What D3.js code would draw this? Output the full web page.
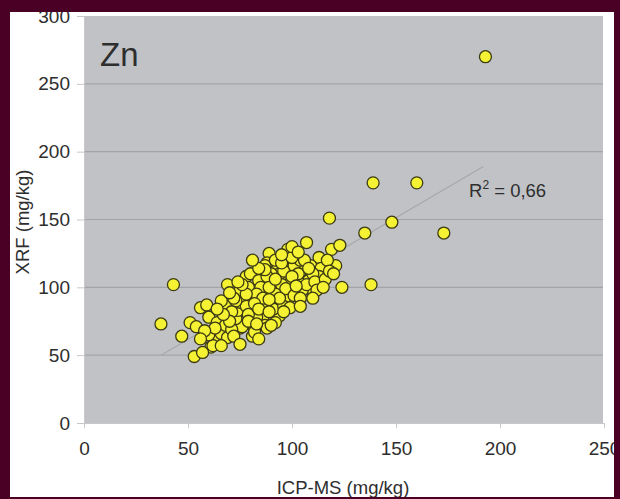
<!DOCTYPE html>
<html>
  <head>
    <title> Zn XRF vs ICP-MS </title>
    <script src="https://d3js.org/d3.v7.min.js"></script>
    <style>
      body { margin: 0; background: #4a0024; }
      text {
        font-family: "Liberation Sans", Arial, sans-serif;
        fill: #2e2e2e;
      }
    </style>
  </head>
  <body>
    <svg id="main" width="620" height="499"></svg>
    <script>
      // ICP-MS (mg/kg) values
      var icpms = [193,160,139,118,148,135,173,138,124,107,119,123,113,109,121,114,106,113,117,108,
                   109,105,105,101,102,98,98,100,98,98,94,95,93,94,89,88,91,84,86,88,
                   90,85,86,87,82,81,81,78,75,77,80,83,93,97,99,103,98,80,87,84,
                   91,101,103,94,82,76,69,73,78,86,65,61,43,37,47,53,57,62,51,54,
                   56,59,60,60,66,64,69,69,74,69,66,74,68,71,75,78,96,92,90,85,
                   79,83,88,95,100,104,97,92,89,86,82,79,84,91,96,101,107,110,111,104,
                   99,94,89,87,92,95,100,102,78,76,73,71,70,67,63,58,56,72,88,92,
                   96,84,75,106,112,116,118,115,120,110,104,108,100,95,103,84,81,74,79,89,
                   90,83,72,66,64,70];
      // XRF (mg/kg) values
      var xrf = [270,177,177,151,148,140,140,102,100,133,128,131,122,116,116,114,107,108,120,105,
                 99,113,98,99,110,125,118,116,105,91,80,98,114,110,125,118,104,107,97,96,
                 89,86,78,72,70,64,93,108,70,89,83,78,89,93,103,104,128,110,116,105,
                 105,116,110,79,67,71,86,77,82,86,63,56,102,73,64,49,52,57,74,71,
                 85,87,78,65,66,74,77,102,96,63,57,83,72,69,89,86,112,120,110,100,
                 100,95,108,102,108,120,99,95,100,92,88,80,84,84,86,94,102,110,104,92,
                 85,92,91,113,106,118,122,101,95,102,90,82,75,80,70,68,62,64,70,74,
                 82,62,58,120,98,106,112,100,110,92,86,114,130,124,126,114,120,104,75,82,
                 72,73,92,90,84,96];

      var trendX = [37, 192];
      var trendY = [50, 189];
      var r2Label = '0,66';
      var element = 'Zn';
      var xTicks = [0, 50, 100, 150, 200, 250];
      var yTicks = [0, 50, 100, 150, 200, 250, 300];

      var svg = d3.select('#main');

      svg.append('rect').attr('width', 620).attr('height', 499).attr('fill', '#4a0024');
      svg.append('defs').append('clipPath').attr('id', 'panel')
        .append('rect').attr('x', 10).attr('y', 12).attr('width', 604).attr('height', 485);
      svg.append('rect').attr('x', 10).attr('y', 12).attr('width', 604).attr('height', 485)
        .attr('fill', 'white');

      var root = svg.append('g').attr('clip-path', 'url(#panel)');

      var plotL = 84, plotR = 604, plotT = 16, plotB = 423;
      var x = d3.scaleLinear().domain([0, 250]).range([plotL, plotR]);
      var y = d3.scaleLinear().domain([0, 300]).range([plotB, plotT]);

      root.append('rect')
        .attr('x', plotL).attr('y', plotT)
        .attr('width', plotR - 1 - plotL).attr('height', plotB - plotT)
        .attr('fill', '#c0c2c6');

      // gridlines
      root.selectAll('.grid')
        .data(yTicks.slice(1, -1))
        .enter()
        .append('line')
        .attr('x1', plotL).attr('x2', plotR - 1)
        .attr('y1', function(d){ return y(d); })
        .attr('y2', function(d){ return y(d); })
        .attr('stroke', '#a2a4a8')
        .attr('stroke-width', 1.2);

      var yAxis = d3.axisLeft(y).tickValues(yTicks).tickSize(7).tickPadding(7);
      var gy = root.append('g').attr('transform', 'translate(' + plotL + ',0)').call(yAxis);
      var xAxis = d3.axisBottom(x).tickValues(xTicks).tickSize(5).tickPadding(14);
      var gx = root.append('g').attr('transform', 'translate(0,' + plotB + ')').call(xAxis);

      [gx, gy].forEach(function(g){
        g.select('.domain').attr('stroke', '#c8c8c8');
        g.selectAll('.tick line').attr('stroke', '#c8c8c8');
        g.selectAll('.tick text')
          .style('font-size', '19px')
          .style('font-family', '"Liberation Sans", Arial, sans-serif')
          .attr('fill', '#2e2e2e');
      });

      // trend line
      root.append('line')
        .attr('x1', x(trendX[0])).attr('y1', y(trendY[0]))
        .attr('x2', x(trendX[1])).attr('y2', y(trendY[1]))
        .attr('stroke', '#a6a8ac')
        .attr('stroke-width', 1.2);

      var pts = icpms.map(function(d, i){ return [d, xrf[i]]; });

      root.selectAll('circle')
        .data(pts)
        .enter()
        .append('circle')
        .attr('cx', function(d){ return x(d[0]); })
        .attr('cy', function(d){ return y(d[1]); })
        .attr('r', 6)
        .attr('fill', '#f4f232')
        .attr('stroke', '#3c3a12')
        .attr('stroke-width', 1.3);

      root.append('text')
        .attr('x', 100).attr('y', 66)
        .style('font-size', '33px')
        .attr('fill', '#222')
        .text(element);

      var r2 = root.append('text')
        .attr('x', 469).attr('y', 197)
        .style('font-size', '18.5px');
      r2.append('tspan').text('R');
      r2.append('tspan').attr('dy', -8).style('font-size', '12px').text('2');
      r2.append('tspan').attr('dy', 8).text(' = ' + r2Label);

      root.append('text')
        .attr('x', 343).attr('y', 494)
        .attr('text-anchor', 'middle')
        .style('font-size', '18.5px')
        .text('ICP-MS (mg/kg)');

      root.append('text')
        .attr('transform', 'translate(29,' + 222 + ') rotate(-90)')
        .attr('text-anchor', 'middle')
        .style('font-size', '18.5px')
        .text('XRF (mg/kg)');
    </script>
  </body>
</html>
